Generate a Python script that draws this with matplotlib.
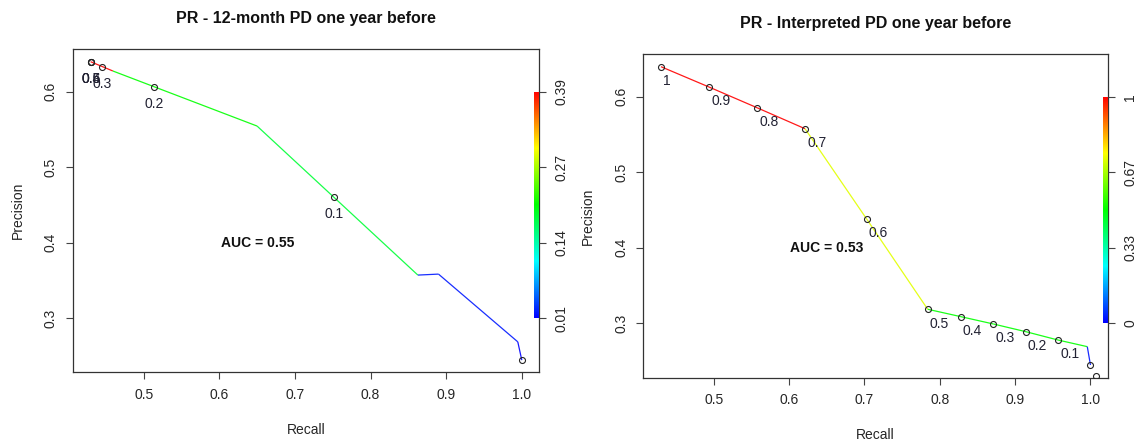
import numpy as np
import matplotlib
matplotlib.use("Agg")
import matplotlib.pyplot as plt
from matplotlib.collections import LineCollection
from matplotlib.colors import LinearSegmentedColormap, Normalize

plt.rcParams['font.family'] = ['Liberation Sans', 'DejaVu Sans']

# ---------------- data: left panel (12-month PD) ----------------
title_12m = "PR - 12-month PD one year before"
curve_recall_12m = [0.4296, 0.4590, 0.6498, 0.8625, 0.8898, 0.9947, 1.0000]
curve_precision_12m = [0.6397, 0.6274, 0.5545, 0.3572, 0.3585, 0.2688, 0.2446]
segment_score_12m = [0.39, 0.20, 0.18, 0.02, 0.02, 0.01]
point_recall_12m = [0.4296, 0.4296, 0.4296, 0.4453, 0.5133, 0.7513, 1.0000]
point_precision_12m = [0.6397, 0.6397, 0.6397, 0.6331, 0.6062, 0.4609, 0.2446]
point_labels_12m = ["0.4", "0.5", "0.6", "0.3", "0.2", "0.1", ""]
auc_12m = "AUC = 0.55"
score_range_12m = (0.01, 0.39)
cbar_labels_12m = ["0.01", "0.14", "0.27", "0.39"]

# ---------------- data: right panel (Interpreted PD) ----------------
title_int = "PR - Interpreted PD one year before"
curve_recall_int = [0.4301, 0.4938, 0.5575, 0.6212, 0.7030, 0.7840, 0.8280,
                    0.8712, 0.9143, 0.9569, 0.9958, 1.0000]
curve_precision_int = [0.6397, 0.6128, 0.5854, 0.5576, 0.4381, 0.3186, 0.3088,
                       0.2991, 0.2889, 0.2779, 0.2691, 0.2448]
segment_score_int = [1.0, 1.0, 1.0, 0.72, 0.72, 0.5, 0.5, 0.5, 0.5, 0.5, 0.02]
point_recall_int = [0.4301, 0.4938, 0.5575, 0.6212, 0.7030, 0.7840, 0.8280,
                    0.8712, 0.9143, 0.9569, 1.0000, 1.0069]
point_precision_int = [0.6397, 0.6128, 0.5854, 0.5576, 0.4381, 0.3186, 0.3088,
                       0.2991, 0.2889, 0.2779, 0.2448, 0.2302]
point_labels_int = ["1", "0.9", "0.8", "0.7", "0.6", "0.5", "0.4", "0.3",
                    "0.2", "0.1", "", ""]
auc_int = "AUC = 0.53"
score_range_int = (0.0, 1.0)
cbar_labels_int = ["0", "0.33", "0.67", "1"]

# ---------------- shared axis settings ----------------
x_ticks = [0.5, 0.6, 0.7, 0.8, 0.9, 1.0]
x_tick_labels = ["0.5", "0.6", "0.7", "0.8", "0.9", "1.0"]
y_ticks = [0.3, 0.4, 0.5, 0.6]
y_tick_labels = ["0.3", "0.4", "0.5", "0.6"]

cmap = LinearSegmentedColormap.from_list(
    "prroc", ["#0000ff", "#00ffff", "#00ff00", "#ffff00", "#ff0000"])

TXT = "#262626"
W, H = 1136, 443
fig = plt.figure(figsize=(W / 100, H / 100), dpi=100)


def panel(rect, title, cr, cp, segscore, pr, pp, plabels, label_off, auc,
          srange, cbl, xlim, ylim):
    ax = fig.add_axes(rect)
    ax.set_xlim(*xlim)
    ax.set_ylim(*ylim)
    pts = np.column_stack([cr, cp])
    segs = np.stack([pts[:-1], pts[1:]], axis=1)
    lc = LineCollection(segs, cmap=cmap, norm=Normalize(*srange),
                        linewidths=0.9, alpha=0.9, zorder=2)
    lc.set_array(np.asarray(segscore))
    ax.add_collection(lc)
    ax.plot(pr, pp, linestyle="none", marker="o", markersize=4.3,
            markerfacecolor="none", markeredgecolor="#222222",
            markeredgewidth=0.8, zorder=3)
    for x, y, s in zip(pr, pp, plabels):
        if s:
            ax.annotate(s, (x, y), xytext=label_off, textcoords="offset points",
                        ha="left", va="center", fontsize=10, color="#222233")
    ax.text(0.65, 0.40, auc, fontsize=10, fontweight="bold", ha="center",
            va="center", color="#111111")
    ax.set_title(title, fontsize=11.5, fontweight="bold", pad=19, color="#111111")
    ax.set_xticks(x_ticks)
    ax.set_xticklabels(x_tick_labels)
    ax.set_yticks(y_ticks)
    ax.set_yticklabels(y_tick_labels, rotation=90, va="center")
    ax.tick_params(direction="out", length=5, width=0.8, colors="#444444",
                   labelcolor=TXT, labelsize=10, pad=6)
    for sp in ax.spines.values():
        sp.set_color("#333333")
        sp.set_linewidth(0.9)
    ax.set_xlabel("Recall", fontsize=10, color=TXT)
    ax.set_ylabel("Precision", fontsize=10, color=TXT)
    ax.xaxis.set_label_coords(0.5, -0.178)
    ax.xaxis.label.set_va("center")
    ax.yaxis.set_label_coords(-0.119, 0.5)
    ax.yaxis.label.set_va("center")

    # colour bar drawn inside the plot region at the right edge
    wfrac = 4.8 / (rect[2] * W)
    cax = ax.inset_axes([1 - wfrac, y_ticks[0], wfrac, y_ticks[-1] - y_ticks[0]],
                        transform=ax.get_yaxis_transform())
    cax.imshow(np.linspace(0, 1, 256).reshape(-1, 1), cmap=cmap, aspect="auto",
               origin="lower", extent=[0, 1, 0, 1])
    cax.set_axis_off()

    ax2 = ax.twinx()
    ax2.set_ylim(*ylim)
    ax2.set_yticks(y_ticks)
    ax2.set_yticklabels(cbl, rotation=90, va="center")
    ax2.tick_params(direction="out", length=5, width=0.8, colors="#444444",
                    labelcolor=TXT, labelsize=10, pad=6)
    for sp in ax2.spines.values():
        sp.set_visible(False)
    return ax


panel([0.0644, 0.1596, 0.4103, 0.7291], title_12m, curve_recall_12m,
      curve_precision_12m, segment_score_12m, point_recall_12m,
      point_precision_12m, point_labels_12m, (-6.9, -12.3), auc_12m,
      score_range_12m, cbar_labels_12m, (0.4065, 1.0231), (0.2285, 0.6561))

panel([0.5663, 0.1474, 0.4092, 0.7300], title_int, curve_recall_int,
      curve_precision_int, segment_score_int, point_recall_int,
      point_precision_int, point_labels_int, (1.5, -10.3), auc_int,
      score_range_int, cbar_labels_int, (0.4066, 1.0235), (0.2280, 0.6561))

fig.savefig("out.png", dpi=100)
